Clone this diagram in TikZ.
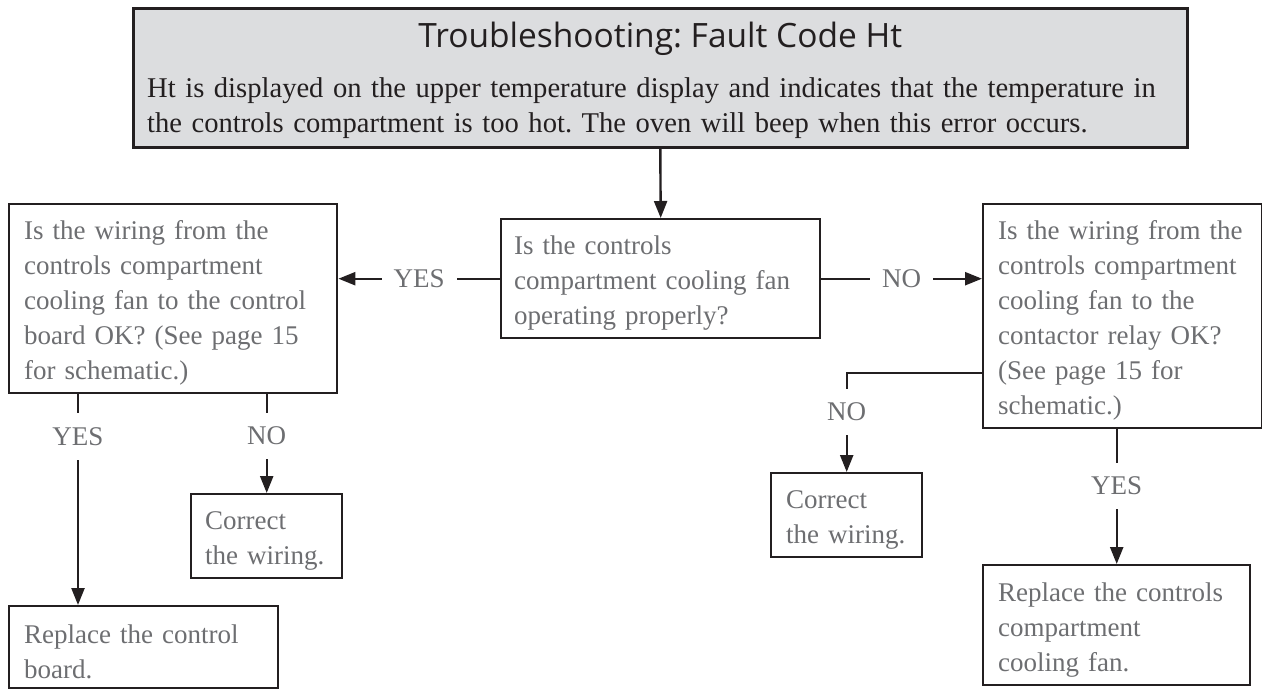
\documentclass[tikz,border=0pt]{standalone}
\usepackage{fontspec}
\setmainfont{Liberation Serif}
\newfontfamily\headfont{Open Sans}
\frenchspacing
\usepackage{tikz}
\usetikzlibrary{arrows.meta,positioning,calc}
\definecolor{inkdark}{HTML}{231F20}
\definecolor{inkgrey}{HTML}{6D6E71}
\definecolor{headfill}{HTML}{DCDDDF}
\tikzstyle{headnode} = [rectangle, draw=inkdark, fill=headfill, line width=2.6pt,
    anchor=north west, minimum width=1054pt, minimum height=139pt]
\tikzstyle{asknode} = [rectangle, draw=inkdark, line width=2.4pt, anchor=north west,
    text=inkgrey, align=left, inner xsep=15pt, inner ysep=0pt, font=\fontsize{27}{35}\selectfont,
    execute at begin node={\rule{0pt}{28pt}}]
\tikzstyle{line} = [draw=inkdark, line width=2.4pt, -{Triangle[length=17pt,width=13pt]}]
\tikzstyle{answer} = [fill=white, text=inkgrey, inner xsep=12pt, inner ysep=14pt,
    font=\fontsize{27}{35}\selectfont]

\begin{document}
\begin{tikzpicture}[x=1pt,y=-1pt]
    \useasboundingbox (0,0) rectangle (1262,689);
    % Place nodes
    \node [headnode] (header) at (132,7) {};
    \node [anchor=base, inner sep=0pt, text=inkdark, font=\headfont\fontsize{33.5}{38}\selectfont]
        (title) at ([yshift=-40pt]header.north) {Troubleshooting: Fault Code Ht};
    \node [anchor=base west, inner sep=0pt, text width=1035pt, align=left, text=inkdark,
        font=\fontsize{28.6}{35}\selectfont] (intro) at ([xshift=15pt,yshift=-90pt]header.north west)
        {Ht is displayed on the upper temperature display and indicates that the temperature in\\
         the controls compartment is too hot. The oven will beep when this error occurs.};

    \node [asknode, inner xsep=13pt, text width=293pt, minimum height=119pt] (fanOK) at (500,218)
        {Is the controls\\compartment cooling fan\\operating properly?};
    \node [asknode, text width=298pt, minimum height=189pt] (boardWire) at (8,203)
        {Is the wiring from the\\controls compartment\\cooling fan to the control\\board OK? (See page 15\\for schematic.)};
    \node [asknode, text width=249pt, minimum height=224pt] (relayWire) at (982,203)
        {Is the wiring from the\\controls compartment\\cooling fan to the\\contactor relay OK?\\(See page 15 for\\schematic.)};

    \node [asknode, inner xsep=14pt, text width=123pt, minimum height=84pt] (fixLeft) at (190,493)
        {Correct\\the wiring.};
    \node [asknode, text width=239pt, minimum height=82pt] (newBoard) at (8,605)
        {Replace the control\\board.};
    \node [asknode, text width=121pt, minimum height=84pt] (fixRight) at (770,472)
        {Correct\\the wiring.};
    \node [asknode, text width=237pt, minimum height=120pt] (newFan) at (982,564)
        {Replace the controls\\compartment\\cooling fan.};

    \coordinate (boardYes) at ([xshift=70pt]boardWire.south west);
    \coordinate (relayNo) at ([yshift=-57pt]relayWire.west);

    \path [line] (header.south) -- (fanOK.north);
    \path [line] (fanOK.west) -- node [answer]{YES} (fanOK.west -| boardWire.east);
    \path [line] (fanOK.east) -- node [answer]{NO} (fanOK.east -| relayWire.west);

    \path [line] (boardYes) -- node [answer, pos=.2]{YES} (boardYes |- newBoard.north);
    \path [line] (fixLeft.north |- boardWire.south) -- node [answer, pos=.42]{NO} (fixLeft.north);

    \path [line] (relayNo) -| node [answer, pos=.695]{NO} (fixRight.north);
    \path [line] (newFan.north |- relayWire.south) -- node [answer, pos=.42]{YES} (newFan.north);
\end{tikzpicture}
\end{document}
